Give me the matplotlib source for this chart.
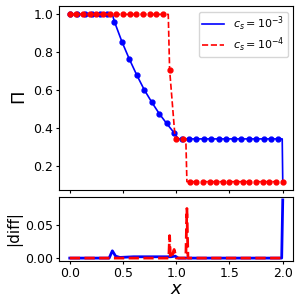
import numpy as np
import matplotlib
matplotlib.use('Agg')
import matplotlib.pyplot as plt

# c_s = 1e-3 (blue): line vertices and marker samples
blue_line_x = [0.0, 0.40, 0.42, 0.49, 0.56, 0.63, 0.70, 0.77, 0.84, 0.91, 0.98, 1.02, 1.995, 2.0]
blue_line_y = [1.0, 1.0, 0.961, 0.856, 0.764, 0.680, 0.603, 0.538, 0.478, 0.426, 0.377, 0.345, 0.345, 0.12]
blue_mark_x = [0.0, 0.07, 0.14, 0.21, 0.28, 0.35, 0.42, 0.49, 0.56, 0.63, 0.70, 0.77, 0.84, 0.91, 0.98,
               1.05, 1.12, 1.19, 1.26, 1.33, 1.40, 1.47, 1.54, 1.61, 1.68, 1.75, 1.82, 1.89, 1.96]
blue_mark_y = [1.0, 1.0, 1.0, 1.0, 1.0, 1.0, 0.961, 0.856, 0.764, 0.680, 0.603, 0.538, 0.478, 0.426, 0.377,
               0.345, 0.345, 0.345, 0.345, 0.345, 0.345, 0.345, 0.345, 0.345, 0.345, 0.345, 0.345, 0.345, 0.345]

# c_s = 1e-4 (red)
red_line_x = [0.0, 0.925, 0.9375, 0.99, 1.0, 1.09, 1.10, 2.0]
red_line_y = [1.0, 1.0, 0.71, 0.345, 0.345, 0.345, 0.12, 0.12]
red_mark_x = [i / 16 for i in range(33)]
red_mark_y = [1.0] * 15 + [0.71, 0.345, 0.345] + [0.12] * 15

# |diff| panel
blue_diff_x = [0.0, 0.37, 0.40, 0.43, 0.47, 0.60, 0.95, 0.99, 1.02, 1.99, 2.0]
blue_diff_y = [0.0, 0.0, 0.011, 0.003, 0.001, 0.002, 0.002, 0.003, 0.0, 0.0, 0.088]
red_diff_x = [0.0, 0.93, 0.9375, 0.945, 0.96, 0.98, 1.0, 1.09, 1.10, 1.11, 2.0]
red_diff_y = [0.0, 0.0, 0.034, 0.0, 0.003, 0.013, 0.0, 0.0, 0.075, 0.0, 0.0]

fig = plt.figure(figsize=(3, 3), dpi=100)
gs = fig.add_gridspec(2, 1, height_ratios=[184, 64], hspace=0.056,
                      left=0.197, right=0.978, top=0.98, bottom=0.13)
ax1 = fig.add_subplot(gs[0])
ax2 = fig.add_subplot(gs[1], sharex=ax1)

ax1.plot(blue_line_x, blue_line_y, color='blue', lw=1.2, label=r'$c_s = 10^{-3}$')
ax1.plot(blue_mark_x, blue_mark_y, 'o', color='blue', ms=3.5)
ax1.plot(red_line_x, red_line_y, '--', color='red', lw=1.2, label=r'$c_s = 10^{-4}$')
ax1.plot(red_mark_x, red_mark_y, 'o', color='red', ms=3.5)
ax1.set_ylabel(r'$\Pi$', fontsize=13, labelpad=3)
ax1.set_yticks([0.2, 0.4, 0.6, 0.8, 1.0])
ax1.tick_params(labelbottom=False, labelsize=9, length=2.5, pad=1.8)
ax1.legend(loc='upper right', fontsize=8, labelspacing=0.2, borderpad=0.3)

ax2.plot(blue_diff_x, blue_diff_y, color='blue', lw=2)
ax2.plot(red_diff_x, red_diff_y, '--', color='red', lw=2)
ax2.set_ylabel('|diff|', fontsize=11, labelpad=2)
ax2.set_xlabel(r'$x$', fontsize=13, labelpad=0)
ax2.set_xticks([0.0, 0.5, 1.0, 1.5, 2.0])
ax2.set_yticks([0.0, 0.05])
ax2.tick_params(labelsize=9, length=2.5, pad=1.8)

fig.savefig('out.png', dpi=100)
